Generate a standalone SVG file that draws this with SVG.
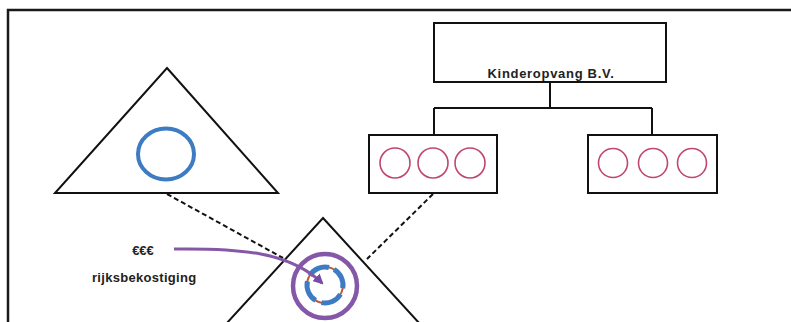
<svg xmlns="http://www.w3.org/2000/svg" width="791" height="322" viewBox="0 0 791 322">
<style>
.frame{fill:none;stroke:#1a1a1a;stroke-width:2.5}
.shape{fill:#fff;stroke:#111;stroke-width:2}
.pink{fill:none;stroke:#c0466e;stroke-width:1.6}
.dash{fill:none;stroke:#111;stroke-width:2;stroke-dasharray:5,3}
.line{fill:none;stroke:#111;stroke-width:2}
.lbl{font-family:"Liberation Sans",Arial,sans-serif;font-weight:bold;font-size:13px;fill:#222}
</style>
<defs>
<marker id="ah" viewBox="0 0 10 10" refX="8" refY="5" markerWidth="3.5" markerHeight="3.5" orient="auto">
<path d="M0,0 L10,5 L0,10 z" fill="#7a4aa8"/>
</marker>
</defs>
<rect width="791" height="322" fill="#fff"/>
<path class="frame" d="M8,322 V10 H791"/>
<g id="connectors">
<line class="dash" x1="167" y1="194" x2="283" y2="258"/>
<line class="dash" x1="433" y1="194" x2="367" y2="259"/>
<path class="line" d="M550,82 V108 M434,108 H652 M434,108 V135 M652,108 V135"/>
</g>
<g id="kinderopvang">
<rect class="shape" x="434" y="23" width="232" height="59"/>
<text class="lbl" x="551" y="78" text-anchor="middle" letter-spacing="0.7">Kinderopvang B.V.</text>
</g>
<g id="locatie-links">
<rect class="shape" x="369" y="135" width="128" height="58"/>
<circle class="pink" cx="395" cy="163" r="15"/>
<circle class="pink" cx="433" cy="163" r="15"/>
<circle class="pink" cx="470" cy="163" r="15"/>
</g>
<g id="locatie-rechts">
<rect class="shape" x="588" y="135" width="129" height="58"/>
<circle class="pink" cx="613" cy="163" r="14.5"/>
<circle class="pink" cx="653" cy="163" r="14.5"/>
<circle class="pink" cx="692" cy="163" r="14.5"/>
</g>
<g id="driehoek-links">
<polygon class="shape" points="167,68 278,193 55,193"/>
<ellipse cx="166" cy="154" rx="28" ry="25.5" fill="none" stroke="#3d7cc2" stroke-width="4"/>
</g>
<g id="driehoek-onder">
<polygon class="shape" points="323,218 420,324 226,324"/>
<circle cx="325" cy="286" r="32" fill="none" stroke="#8557a8" stroke-width="4.5"/>
<circle cx="325" cy="285" r="18" fill="none" stroke="#c25a3a" stroke-width="2"/>
<circle cx="325" cy="285" r="18" fill="none" stroke="#3d7cc2" stroke-width="5" stroke-dasharray="22,6.3" transform="rotate(-60 325 285)"/>
</g>
<g id="label">
<text class="lbl" x="143" y="255" text-anchor="middle">€€€</text>
<text class="lbl" x="92" y="282" letter-spacing="0.3">rijksbekostiging</text>
<path d="M174,249 C240,248 290,252 322,283" fill="none" stroke="#8557a8" stroke-width="3" marker-end="url(#ah)"/>
</g>
</svg>
